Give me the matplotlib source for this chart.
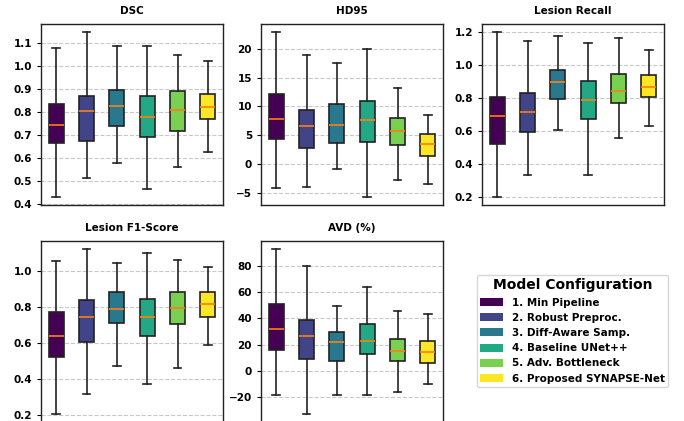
import matplotlib
matplotlib.use("Agg")
import matplotlib.pyplot as plt
from matplotlib.patches import Patch

models = ["1. Min Pipeline", "2. Robust Preproc.", "3. Diff-Aware Samp.",
          "4. Baseline UNet++", "5. Adv. Bottleneck", "6. Proposed SYNAPSE-Net"]
colors = ["#440154", "#414487", "#2a788e", "#22a884", "#7ad151", "#fde725"]

metrics = ["DSC", "HD95", "Lesion Recall", "Lesion F1-Score", "AVD (%)"]

# per metric: whislo, q1, med, q3, whishi for each model
dsc_lo  = [0.431, 0.512, 0.578, 0.464, 0.560, 0.625]
dsc_q1  = [0.663, 0.673, 0.738, 0.692, 0.718, 0.770]
dsc_med = [0.744, 0.803, 0.827, 0.779, 0.810, 0.820]
dsc_q3  = [0.833, 0.870, 0.897, 0.870, 0.891, 0.877]
dsc_hi  = [1.077, 1.147, 1.087, 1.088, 1.049, 1.023]

hd_lo  = [-4.13, -4.01, -0.86, -5.70, -2.84, -3.43]
hd_q1  = [4.38, 2.69, 3.62, 3.80, 3.22, 1.35]
hd_med = [7.76, 6.60, 6.71, 7.70, 5.66, 3.45]
hd_q3  = [12.13, 9.28, 10.44, 10.97, 8.00, 5.13]
hd_hi  = [22.86, 18.90, 17.44, 19.88, 13.24, 8.51]

rec_lo  = [0.200, 0.332, 0.605, 0.332, 0.556, 0.628]
rec_q1  = [0.522, 0.591, 0.795, 0.673, 0.768, 0.803]
rec_med = [0.691, 0.715, 0.894, 0.789, 0.844, 0.868]
rec_q3  = [0.805, 0.831, 0.968, 0.903, 0.943, 0.937]
rec_hi  = [1.198, 1.147, 1.178, 1.135, 1.165, 1.092]

f1_lo  = [0.206, 0.314, 0.470, 0.373, 0.461, 0.590]
f1_q1  = [0.523, 0.607, 0.713, 0.640, 0.709, 0.746]
f1_med = [0.640, 0.748, 0.789, 0.748, 0.797, 0.815]
f1_q3  = [0.774, 0.838, 0.884, 0.843, 0.883, 0.884]
f1_hi  = [1.060, 1.123, 1.047, 1.104, 1.065, 1.026]

avd_lo  = [-18.5, -33.1, -18.5, -19.0, -16.7, -10.3]
avd_q1  = [16.1, 9.2, 7.4, 13.1, 7.4, 6.2]
avd_med = [32.3, 26.4, 22.1, 22.6, 14.9, 14.4]
avd_q3  = [51.0, 38.7, 29.7, 35.6, 24.1, 22.8]
avd_hi  = [93.1, 80.3, 49.5, 64.4, 45.6, 43.6]

data = [
    (dsc_lo, dsc_q1, dsc_med, dsc_q3, dsc_hi),
    (hd_lo, hd_q1, hd_med, hd_q3, hd_hi),
    (rec_lo, rec_q1, rec_med, rec_q3, rec_hi),
    (f1_lo, f1_q1, f1_med, f1_q3, f1_hi),
    (avd_lo, avd_q1, avd_med, avd_q3, avd_hi),
]

fig = plt.figure(figsize=(6.84, 4.21), dpi=100)
W = 182 / 684
H = 181 / 421
lefts = [41 / 684, 261 / 684, 482 / 684]
bottoms = [1 - 205 / 421, 1 - 422 / 421]

for i, (name, (lo, q1, med, q3, hi)) in enumerate(zip(metrics, data)):
    r, c = divmod(i, 3)
    ax = fig.add_axes([lefts[c], bottoms[r], W, H])
    stats = []
    for j in range(len(models)):
        stats.append(dict(whislo=lo[j], q1=q1[j], med=med[j], q3=q3[j],
                          whishi=hi[j], fliers=[], label=""))
    bp = ax.bxp(stats, patch_artist=True, showfliers=False, widths=0.5,
                boxprops=dict(edgecolor="#222222", linewidth=1.2),
                whiskerprops=dict(color="#222222", linewidth=1.2),
                capprops=dict(color="#222222", linewidth=1.2),
                medianprops=dict(color="#ff7f0e", linewidth=1.2))
    for patch, col in zip(bp["boxes"], colors):
        patch.set_facecolor(col)
    ax.set_title(name, fontsize=7.5, fontweight="bold", pad=7)
    ax.set_xticks([])
    ax.grid(axis="y", linestyle="--", color="#bbbbbb", alpha=0.8, linewidth=0.8)
    ax.set_axisbelow(True)
    for lab in ax.get_yticklabels():
        lab.set_fontweight("bold")
    ax.tick_params(axis="y", labelsize=7.5, length=3, width=0.8)
    for sp in ax.spines.values():
        sp.set_linewidth(1.0)
        sp.set_color("#222222")

handles = [Patch(facecolor=c, edgecolor="none", label=m) for c, m in zip(colors, models)]
leg = fig.legend(handles=handles, loc="center", bbox_to_anchor=(572.5 / 684, 1 - 331 / 421),
                 title="Model Configuration", prop=dict(size=7.5, weight="bold"),
                 title_fontproperties=dict(size=10, weight="bold"),
                 frameon=True, handlelength=2.2, handleheight=0.8, labelspacing=0.5,
                 borderpad=0.35, handletextpad=0.8)

fig.savefig("out.png", dpi=100)
